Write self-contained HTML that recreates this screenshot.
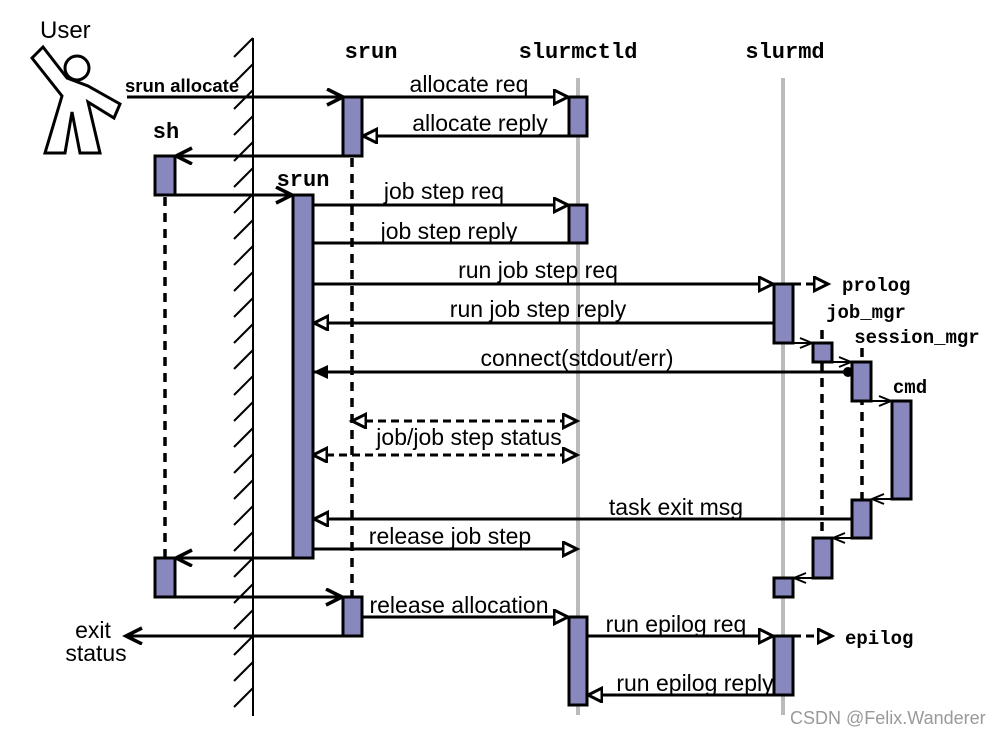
<!DOCTYPE html>
<html><head><meta charset="utf-8"><style>
html,body{margin:0;padding:0;background:#fff;}
svg{display:block;}
.s{font-family:"Liberation Sans",sans-serif;font-size:23px;fill:#000;}
.m{font-family:"Liberation Mono",monospace;font-weight:bold;fill:#000;}
</style></head><body>
<svg width="1007" height="735" viewBox="0 0 1007 735" xmlns="http://www.w3.org/2000/svg">
<defs>
<marker id="tri" markerUnits="userSpaceOnUse" markerWidth="20" markerHeight="20" refX="15" refY="8" orient="auto-start-reverse"><path d="M1,1 L15,8 L1,15 Z" fill="#fff" stroke="#000" stroke-width="3"/></marker>
<marker id="vee" markerUnits="userSpaceOnUse" markerWidth="22" markerHeight="20" refX="18" refY="9" orient="auto"><path d="M2,1 L18,9 L2,17" fill="none" stroke="#000" stroke-width="3.5"/></marker>
<marker id="sv" markerUnits="userSpaceOnUse" markerWidth="16" markerHeight="14" refX="13" refY="6" orient="auto"><path d="M1,1 L13,6 L1,11" fill="none" stroke="#000" stroke-width="2"/></marker>
</defs>

<line x1="578" y1="78" x2="578" y2="715" stroke="#bbb" stroke-width="4"/>
<line x1="783" y1="78" x2="783" y2="715" stroke="#bbb" stroke-width="4"/>

<line x1="253" y1="38" x2="253" y2="716" stroke="#000" stroke-width="2"/>
<g stroke="#000" stroke-width="2">
<line x1="234" y1="57" x2="253" y2="38"/><line x1="234" y1="83" x2="253" y2="64"/>
<line x1="234" y1="109" x2="253" y2="90"/><line x1="234" y1="135" x2="253" y2="116"/>
<line x1="234" y1="161" x2="253" y2="142"/><line x1="234" y1="187" x2="253" y2="168"/>
<line x1="234" y1="213" x2="253" y2="194"/><line x1="234" y1="239" x2="253" y2="220"/>
<line x1="234" y1="265" x2="253" y2="246"/><line x1="234" y1="291" x2="253" y2="272"/>
<line x1="234" y1="317" x2="253" y2="298"/><line x1="234" y1="343" x2="253" y2="324"/>
<line x1="234" y1="369" x2="253" y2="350"/><line x1="234" y1="395" x2="253" y2="376"/>
<line x1="234" y1="421" x2="253" y2="402"/><line x1="234" y1="447" x2="253" y2="428"/>
<line x1="234" y1="473" x2="253" y2="454"/><line x1="234" y1="499" x2="253" y2="480"/>
<line x1="234" y1="525" x2="253" y2="506"/><line x1="234" y1="551" x2="253" y2="532"/>
<line x1="234" y1="577" x2="253" y2="558"/><line x1="234" y1="603" x2="253" y2="584"/>
<line x1="234" y1="629" x2="253" y2="610"/><line x1="234" y1="655" x2="253" y2="636"/>
<line x1="234" y1="681" x2="253" y2="662"/><line x1="234" y1="707" x2="253" y2="688"/>
</g>

<text x="40" y="38" class="s" style="font-size:24px">User</text>
<path d="M32,58 L43,47 L67,78 L88,86 L120,104 L114,118 L88,102 L100,153 L80,153 L72,112 L65,153 L45,153 L62,96 Z" fill="#fff" stroke="#000" stroke-width="3" stroke-linejoin="miter"/>
<circle cx="77" cy="68" r="12" fill="#fff" stroke="#000" stroke-width="3"/>

<text x="371" y="58" class="m" text-anchor="middle" font-size="22">srun</text>
<text x="578" y="58" class="m" text-anchor="middle" font-size="22">slurmctld</text>
<text x="785" y="58" class="m" text-anchor="middle" font-size="22">slurmd</text>
<text x="166" y="138" class="m" text-anchor="middle" font-size="22">sh</text>
<text x="303" y="186" class="m" text-anchor="middle" font-size="22">srun</text>
<text x="866" y="318" class="m" text-anchor="middle" font-size="19">job_mgr</text>
<text x="917" y="343" class="m" text-anchor="middle" font-size="19">session_mgr</text>
<text x="910" y="393" class="m" text-anchor="middle" font-size="19">cmd</text>
<text x="842" y="291" class="m" font-size="19">prolog</text>
<text x="845" y="644" class="m" font-size="19">epilog</text>

<g stroke="#000" stroke-width="3.5" stroke-dasharray="9,7">
<line x1="165" y1="197" x2="165" y2="558"/>
<line x1="352" y1="158" x2="352" y2="597"/>
<line x1="822" y1="330" x2="822" y2="538"/>
<line x1="862" y1="348" x2="862" y2="500"/>
</g>

<g stroke="#000" stroke-width="3" fill="none">
<line x1="127" y1="97" x2="343" y2="97" marker-end="url(#vee)"/>
<line x1="362" y1="97" x2="568" y2="97" marker-end="url(#tri)"/>
<line x1="569" y1="136" x2="363" y2="136" marker-end="url(#tri)"/>
<line x1="343" y1="156" x2="176" y2="156" marker-end="url(#vee)"/>
<line x1="175" y1="195" x2="292" y2="195" marker-end="url(#vee)"/>
<line x1="313" y1="205" x2="568" y2="205" marker-end="url(#tri)"/>
<line x1="313" y1="243" x2="569" y2="243"/>
<line x1="313" y1="284" x2="773" y2="284" marker-end="url(#tri)"/>
<line x1="774" y1="323" x2="314" y2="323" marker-end="url(#tri)"/>
<line x1="313" y1="372" x2="848" y2="372"/>
<line x1="852" y1="519" x2="314" y2="519" marker-end="url(#tri)"/>
<line x1="313" y1="549" x2="577" y2="549" marker-end="url(#tri)"/>
<line x1="293" y1="558" x2="176" y2="558" marker-end="url(#vee)"/>
<line x1="175" y1="597" x2="342" y2="597" marker-end="url(#vee)"/>
<line x1="362" y1="617" x2="568" y2="617" marker-end="url(#tri)"/>
<line x1="343" y1="636" x2="126" y2="636" marker-end="url(#vee)"/>
<line x1="587" y1="636" x2="773" y2="636" marker-end="url(#tri)"/>
<line x1="774" y1="695" x2="588" y2="695" marker-end="url(#tri)"/>
</g>
<path d="M313,372 L328,365 L328,379 Z" fill="#000"/>
<circle cx="848" cy="372" r="5" fill="#000"/>

<g stroke="#000" stroke-width="2" fill="none">
<line x1="793" y1="343" x2="812" y2="343" marker-end="url(#sv)"/>
<line x1="832" y1="362" x2="851" y2="362" marker-end="url(#sv)"/>
<line x1="871" y1="401" x2="891" y2="401" marker-end="url(#sv)"/>
<line x1="892" y1="499" x2="872" y2="499" marker-end="url(#sv)"/>
<line x1="852" y1="538" x2="833" y2="538" marker-end="url(#sv)"/>
<line x1="813" y1="578" x2="794" y2="578" marker-end="url(#sv)"/>
</g>

<g stroke="#000" stroke-width="3" fill="none" stroke-dasharray="8,5">
<line x1="793" y1="284" x2="828" y2="284" marker-end="url(#tri)"/>
<line x1="793" y1="636" x2="832" y2="636" marker-end="url(#tri)"/>
<line x1="352" y1="421" x2="577" y2="421" marker-start="url(#tri)" marker-end="url(#tri)"/>
<line x1="313" y1="455" x2="577" y2="455" marker-start="url(#tri)" marker-end="url(#tri)"/>
</g>

<g fill="#8888bf" stroke="#000" stroke-width="3">
<rect x="343" y="97" width="19" height="59"/>
<rect x="569" y="97" width="18" height="39"/>
<rect x="155" y="156" width="20" height="39"/>
<rect x="293" y="195" width="20" height="363"/>
<rect x="569" y="205" width="18" height="38"/>
<rect x="774" y="284" width="19" height="59"/>
<rect x="813" y="343" width="19" height="19"/>
<rect x="852" y="362" width="19" height="39"/>
<rect x="892" y="401" width="19" height="98"/>
<rect x="852" y="500" width="19" height="38"/>
<rect x="813" y="538" width="19" height="40"/>
<rect x="774" y="578" width="19" height="19"/>
<rect x="155" y="558" width="20" height="39"/>
<rect x="343" y="597" width="19" height="39"/>
<rect x="569" y="617" width="18" height="88"/>
<rect x="774" y="636" width="19" height="59"/>
</g>

<text x="125" y="92" class="s" style="font-size:18.5px;font-weight:bold">srun allocate</text>
<text x="469" y="92" class="s" text-anchor="middle">allocate req</text>
<text x="480" y="131" class="s" text-anchor="middle">allocate reply</text>
<text x="444" y="199" class="s" text-anchor="middle">job step req</text>
<text x="449" y="239" class="s" text-anchor="middle">job step reply</text>
<text x="538" y="278" class="s" text-anchor="middle">run job step req</text>
<text x="538" y="317" class="s" text-anchor="middle">run job step reply</text>
<text x="577" y="366" class="s" text-anchor="middle">connect(stdout/err)</text>
<text x="469" y="445" class="s" text-anchor="middle">job/job step status</text>
<text x="676" y="515" class="s" text-anchor="middle">task exit msg</text>
<text x="450" y="544" class="s" text-anchor="middle">release job step</text>
<text x="459" y="613" class="s" text-anchor="middle">release allocation</text>
<text x="676" y="632" class="s" text-anchor="middle">run epilog req</text>
<text x="695" y="691" class="s" text-anchor="middle">run epilog reply</text>
<text x="93" y="638" class="s" text-anchor="middle">exit</text>
<text x="96" y="661" class="s" text-anchor="middle">status</text>
<text x="790" y="724" style="font-family:'Liberation Sans',sans-serif;font-size:18px;fill:#999">CSDN @Felix.Wanderer</text>
</svg>
</body></html>
